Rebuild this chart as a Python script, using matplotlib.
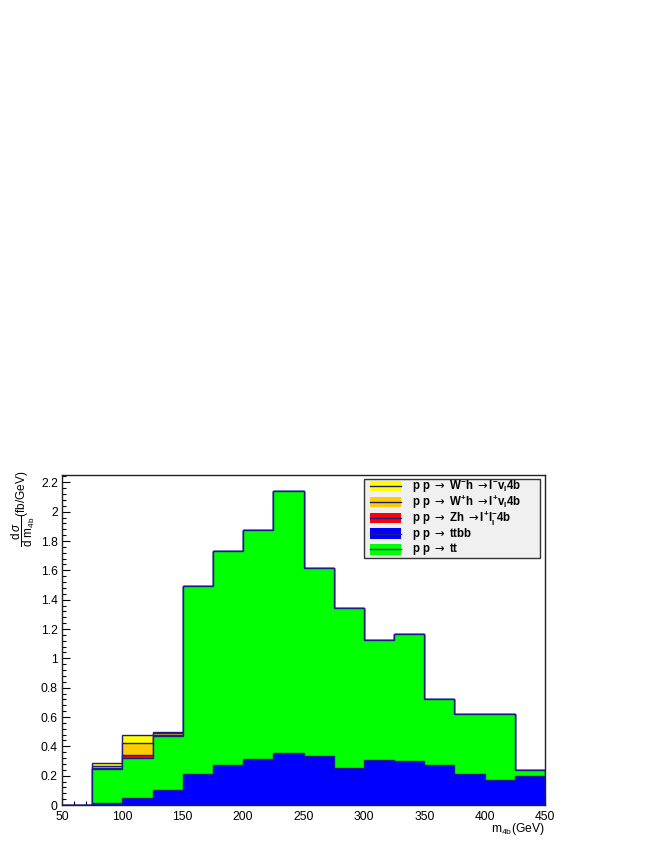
import matplotlib
matplotlib.use('Agg')
import matplotlib.pyplot as plt
import numpy as np
from matplotlib.patches import Rectangle
from matplotlib.lines import Line2D
from matplotlib.ticker import MultipleLocator, FuncFormatter

plt.rcParams['font.family'] = ['Liberation Sans', 'DejaVu Sans']
plt.rcParams['mathtext.fontset'] = 'custom'
plt.rcParams['mathtext.rm'] = 'Liberation Sans'
plt.rcParams['mathtext.it'] = 'Liberation Sans:italic'
plt.rcParams['mathtext.bf'] = 'Liberation Sans:bold'
plt.rcParams['mathtext.sf'] = 'DejaVu Sans'

# ---- data ----
bin_edges = [50, 75, 100, 125, 150, 175, 200, 225, 250, 275, 300, 325, 350, 375, 400, 425, 450]
ttbb = [0, 0.015, 0.045, 0.100, 0.210, 0.270, 0.315, 0.352, 0.333, 0.250, 0.305, 0.300, 0.272, 0.210, 0.168, 0.195]
tt = [0, 0.232, 0.275, 0.372, 1.280, 1.465, 1.560, 1.788, 1.282, 1.095, 0.817, 0.865, 0.453, 0.410, 0.452, 0.043]
zh = [0, 0.004, 0.022, 0.008, 0, 0, 0, 0, 0, 0, 0, 0, 0, 0, 0, 0]
wplus_h = [0, 0.018, 0.078, 0.010, 0, 0, 0, 0, 0, 0, 0, 0, 0, 0, 0, 0]
wminus_h = [0, 0.018, 0.055, 0.008, 0, 0, 0, 0, 0, 0, 0, 0, 0, 0, 0, 0]

legend_labels = [
    r'$\mathbf{p\ p}\ \mathsf{\rightarrow}\ \mathbf{W^{-}h}\ \mathsf{\rightarrow}\mathbf{l^{-}v_{l}4b}$',
    r'$\mathbf{p\ p}\ \mathsf{\rightarrow}\ \mathbf{W^{+}h}\ \mathsf{\rightarrow}\mathbf{l^{+}v_{l}4b}$',
    r'$\mathbf{p\ p}\ \mathsf{\rightarrow}\ \mathbf{Zh}\ \mathsf{\rightarrow}\mathbf{l^{+}l^{-}_{l}4b}$',
    r'$\mathbf{p\ p}\ \mathsf{\rightarrow}\ \mathbf{ttbb}$',
    r'$\mathbf{p\ p}\ \mathsf{\rightarrow}\ \mathbf{tt}$',
]

# ---- style ----
navy = '#1c1c8a'
fills = ['#0000ff', '#00ff00', '#ff0000', '#ffcc00', '#ffff00']  # ttbb, tt, zh, w+h, w-h
legend_fills = ['#ffff00', '#ffcc00', '#ff0000', '#0000ff', '#00ff00']

W, H = 654, 846
fig = plt.figure(figsize=(W / 100, H / 100), dpi=100)
ax = fig.add_axes([62 / W, 1 - 805 / H, (545 - 62) / W, (805 - 475) / H])

layers = np.array([ttbb, tt, zh, wplus_h, wminus_h])
cum = np.cumsum(layers, axis=0)
for i in reversed(range(len(layers))):
    ax.stairs(cum[i], bin_edges, baseline=0, fill=True, facecolor=fills[i],
              edgecolor='none', zorder=2 + (4 - i) * 0.1)
    ax.stairs(cum[i], bin_edges, baseline=0, fill=False, color=navy, lw=1.0,
              zorder=2.05 + (4 - i) * 0.1)

ax.set_xlim(50, 450)
ax.set_ylim(0, 2.25)
ax.xaxis.set_major_locator(MultipleLocator(50))
ax.xaxis.set_minor_locator(MultipleLocator(10))
ax.yaxis.set_major_locator(MultipleLocator(0.2))
ax.yaxis.set_minor_locator(MultipleLocator(0.04))
ax.yaxis.set_major_formatter(FuncFormatter(lambda v, p: f'{v:g}'))
ax.xaxis.set_major_formatter(FuncFormatter(lambda v, p: f'{v:g}'))
ax.tick_params(which='both', direction='in', top=False, right=False, color='black',
               labelsize=8.7, width=0.8)
ax.tick_params(which='major', length=5.8)
ax.tick_params(which='minor', length=2.9)
ax.tick_params(axis='x', pad=4)
ax.tick_params(axis='y', pad=3)
for s in ax.spines.values():
    s.set_color('#222222')
    s.set_linewidth(1.0)
    s.set_zorder(5)

fig.text(545 / W, 1 - 829 / H, r'$\mathrm{m}_{\mathrm{4b}}$(GeV)', ha='right', va='center', fontsize=8.7)
fig.text(23 / W, 1 - 471 / H, r'$\dfrac{\mathrm{d}\,\sigma}{\mathrm{d}\ \mathrm{m}_{\mathrm{4b}}}$(fb/GeV)',
         rotation=90, ha='center', va='top', fontsize=8.5)

# legend box
fig.patches.append(Rectangle((363.5 / W, 1 - 557.5 / H), 176 / W, 79 / H, transform=fig.transFigure,
                             facecolor='#f0f0f0', edgecolor='#333333', lw=1.0, zorder=6))
row_y = [486, 502, 518, 533.7, 549.3]
for yy, lab, fc in zip(row_y, legend_labels, legend_fills):
    fig.patches.append(Rectangle((370 / W, 1 - (yy + 5.3) / H), 31 / W, 10.6 / H, transform=fig.transFigure,
                                 facecolor=fc, edgecolor='none', zorder=7))
    fig.lines.append(Line2D([370 / W, 401 / W], [1 - yy / H, 1 - yy / H], transform=fig.transFigure,
                            color=navy, lw=1.0, zorder=8))
    fig.text(411.5 / W, 1 - yy / H, lab, ha='left', va='center', fontsize=8.3, zorder=9)

fig.savefig('out.png', dpi=100)
